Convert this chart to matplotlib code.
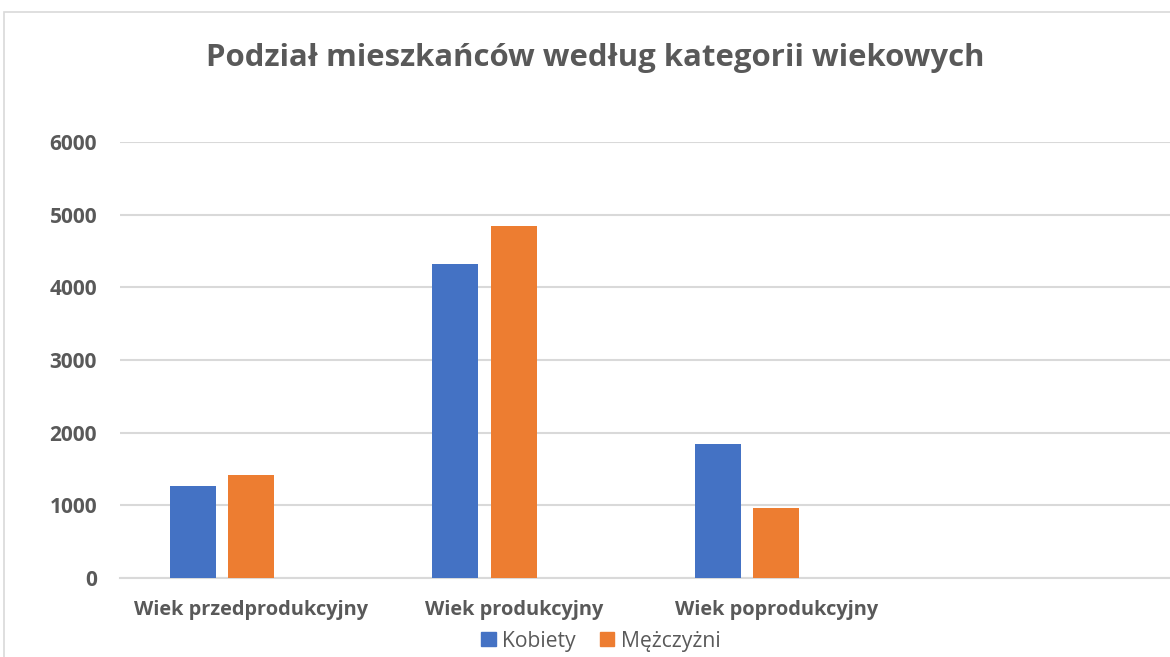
import numpy as np
import matplotlib.pyplot as plt
from matplotlib.patches import Patch, Rectangle

# data
categories = ['Wiek przedprodukcyjny', 'Wiek produkcyjny', 'Wiek poprodukcyjny']
n_slots = 4          # excel chart keeps one empty category slot on the right
kobiety = [1265, 4327, 1844]
mezczyzni = [1412, 4851, 957]
series_names = ['Kobiety', 'Mężczyżni']
yticks = [0, 1000, 2000, 3000, 4000, 5000, 6000]

blue = '#4472C4'
orange = '#ED7D31'
txt = '#595959'
grid = '#D9D9D9'

plt.rcParams['font.family'] = ['Open Sans', 'DejaVu Sans']

fig = plt.figure(figsize=(11.7, 6.57), dpi=100)
W, H = 1170., 657.

# chart frame (cropped screenshot: only left and top edges visible)
fig.patches.append(Rectangle((4 / W, -0.1), 1.2, 1 - 12 / H + 0.1, transform=fig.transFigure,
                             fill=False, edgecolor='#D9D9D9', linewidth=1.2))

ax = fig.add_axes([120 / W, 1 - 577.7 / H, 1050 / W, (577.7 - 142.3) / H])

x = np.arange(len(categories))
bw = 0.175
step = 0.2236        # a third (empty) series sits right of the orange bars
ax.bar(x - step, kobiety, bw, color=blue, zorder=3)
ax.bar(x, mezczyzni, bw, color=orange, zorder=3)

ax.set_xlim(-0.5, n_slots - 0.5)
ax.set_ylim(0, 6000)
ax.set_yticks(yticks)
ax.set_yticklabels([str(v) for v in yticks], fontsize=15, fontweight='bold', color=txt)
ax.yaxis.grid(True, color=grid, linewidth=1.5, zorder=0)
ax.tick_params(axis='y', length=0, pad=16.5)

ax.set_xticks(x)
ax.set_xticklabels(categories, fontsize=14.4, fontweight='bold', color=txt)
ax.tick_params(axis='x', length=0, pad=16)

for s in ['top', 'right', 'left']:
    ax.spines[s].set_visible(False)
ax.spines['bottom'].set_color(grid)
ax.spines['bottom'].set_linewidth(1.5)

fig.text(595 / W, 1 - 58 / H, 'Podział mieszkańców według kategorii wiekowych',
         ha='center', va='center', fontsize=22.4, fontweight='bold', color=txt)

handles = [Patch(color=blue), Patch(color=orange)]
fig.legend(handles, series_names, loc='center', bbox_to_anchor=(601 / W, 1 - 641 / H),
           ncol=2, frameon=False, fontsize=15.2, labelcolor=txt,
           handlelength=0.68, handleheight=0.68, handletextpad=0.3, columnspacing=1.15)

fig.savefig('out.png', dpi=100)
